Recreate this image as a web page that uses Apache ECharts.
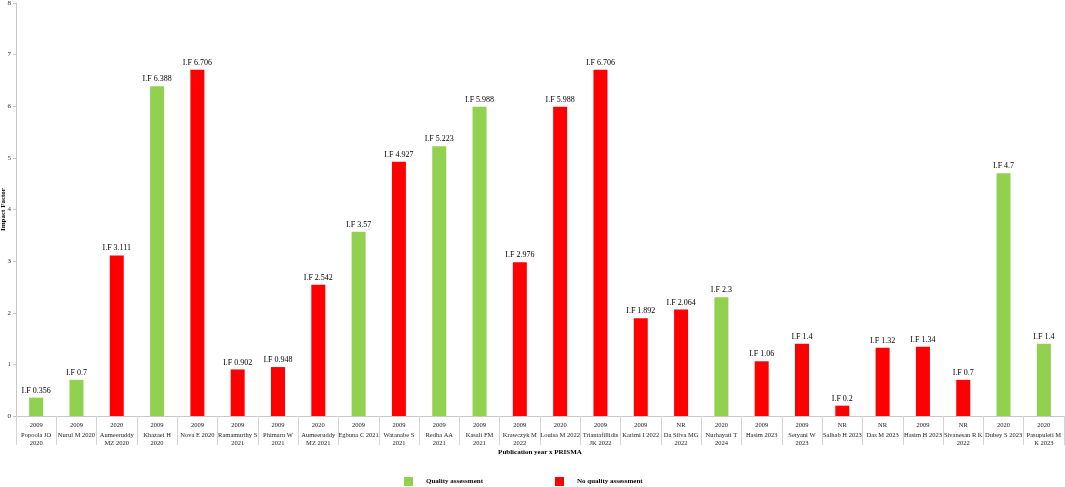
<!DOCTYPE html>
<html>
<head>
<meta charset="utf-8">
<script src="https://cdn.jsdelivr.net/npm/echarts@6/dist/echarts.min.js"></script>
<style>
  html, body { margin: 0; padding: 0; background: #fff; }
  #chart { width: 1065px; height: 487px; }
</style>
</head>
<body>
<div id="chart"></div>
<script>
// study names (line breaks where the reference wraps them)
const studies = [
  'Popoola JO\n2020', 'Nurul M 2020', 'Aumeeruddy\nMZ 2020', 'Khazaei H\n2020', 'Nova E 2020',
  'Ramamurthy S\n2021', 'Phimarn W\n2021', 'Aumeeruddy\nMZ 2021', 'Egbuna C 2021', 'Watanabe S\n2021',
  'Redha AA\n2021', 'Kasali FM\n2021', 'Krawczyk M\n2022', 'Louisa M 2022', 'Triantafillidis\nJK 2022',
  'Karimi I 2022', 'Da Silva MG\n2022', 'Nurhayati T\n2024', 'Hasim 2023', 'Setyani W\n2023',
  'Salhab H 2023', 'Das M 2023', 'Hasim H 2023', 'Sivanesan R K\n2022', 'Dubey S 2023',
  'Pasupuleti M\nK 2023'
];
const prisma = [
  '2009', '2009', '2020', '2009', '2009', '2009', '2009', '2020', '2009', '2009',
  '2009', '2009', '2009', '2020', '2009', '2009', 'NR', '2020', '2009', '2009',
  'NR', 'NR', '2009', 'NR', '2020', '2020'
];
const impactFactor = [
  0.356, 0.7, 3.111, 6.388, 6.706, 0.902, 0.948, 2.542, 3.57, 4.927,
  5.223, 5.988, 2.976, 5.988, 6.706, 1.892, 2.064, 2.3, 1.06, 1.4,
  0.2, 1.32, 1.34, 0.7, 4.7, 1.4
];
// Q = quality assessment, N = no quality assessment
const quality = [
  'Q', 'Q', 'N', 'Q', 'N', 'N', 'N', 'N', 'Q', 'N',
  'Q', 'Q', 'N', 'N', 'N', 'N', 'N', 'Q', 'N', 'N',
  'N', 'N', 'N', 'N', 'Q', 'Q'
];
const yTicks = [0, 1, 2, 3, 4, 5, 6, 7, 8];

const categories = studies.map((s, i) => i);
const qaData = impactFactor.map((v, i) => quality[i] === 'Q' ? v : '-');
const noQaData = impactFactor.map((v, i) => quality[i] === 'N' ? v : '-');

const font = '"Liberation Serif", "Times New Roman", serif';
const barLabel = {
  show: true,
  position: 'top',
  distance: 3,
  formatter: p => 'I.F ' + p.value,
  fontFamily: font,
  fontSize: 8,
  color: '#000'
};

const chart = echarts.init(document.getElementById('chart'));
chart.setOption({
  animation: false,
  textStyle: { fontFamily: font },
  grid: { left: 16, right: 1, top: 3, bottom: 71, outerBoundsMode: 'none', containLabel: false },
  legend: {
    left: 404,
    top: 477,
    padding: 0,
    itemWidth: 9,
    itemHeight: 9,
    itemGap: 72,
    icon: 'rect',
    textStyle: { fontFamily: font, fontSize: 7, fontWeight: 'bold', color: '#000', padding: [0, 0, 0, 8] },
    data: ['Quality assessment', 'No quality assessment']
  },
  xAxis: {
    type: 'category',
    data: categories,
    name: 'Publication year x PRISMA',
    nameLocation: 'middle',
    nameGap: 33,
    nameMoveOverlap: false,
    nameTextStyle: { fontFamily: font, fontSize: 7, fontWeight: 'bold', color: '#000' },
    axisLine: { lineStyle: { color: '#c8c8c8' } },
    axisTick: { show: true, interval: 0, length: 29, lineStyle: { color: '#d4d4d4' } },
    axisLabel: {
      interval: 0,
      margin: 3,
      formatter: i => '{y|' + prisma[i] + '}\n{n|' + studies[i] + '}',
      rich: {
        y: { fontFamily: font, fontSize: 6.5, color: '#222', lineHeight: 12 },
        n: { fontFamily: font, fontSize: 6.5, color: '#222', lineHeight: 8.5 }
      }
    }
  },
  yAxis: {
    type: 'value',
    min: yTicks[0],
    max: yTicks[yTicks.length - 1],
    interval: 1,
    name: 'Impact Factor',
    nameLocation: 'middle',
    nameGap: 9,
    nameMoveOverlap: false,
    nameTextStyle: { fontFamily: font, fontSize: 7, fontWeight: 'bold', color: '#000' },
    axisLine: { show: true, lineStyle: { color: '#c8c8c8' } },
    axisTick: { show: true, length: 3, lineStyle: { color: '#c8c8c8' } },
    axisLabel: { fontFamily: font, fontSize: 7, color: '#333', margin: 5 },
    splitLine: { show: false }
  },
  series: [
    {
      name: 'Quality assessment',
      type: 'bar',
      stack: 'all',
      barWidth: 14,
      itemStyle: { color: '#92D050' },
      label: barLabel,
      data: qaData
    },
    {
      name: 'No quality assessment',
      type: 'bar',
      stack: 'all',
      barWidth: 14,
      itemStyle: { color: '#FF0000' },
      label: barLabel,
      data: noQaData
    }
  ]
});
</script>
</body>
</html>
